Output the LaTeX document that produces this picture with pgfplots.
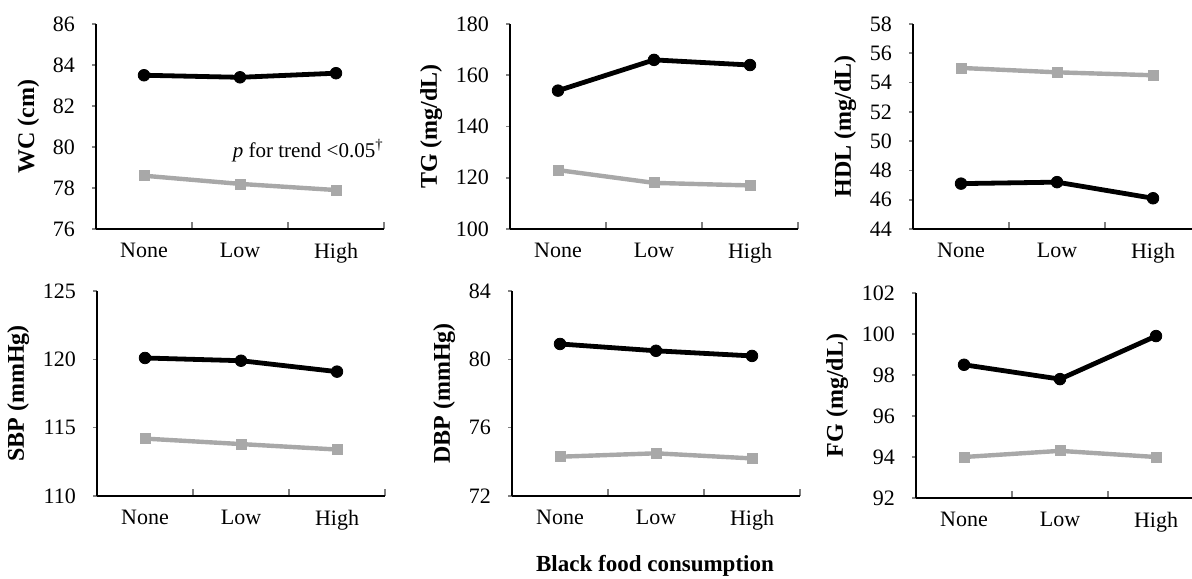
\documentclass[border=0pt]{standalone}
\usepackage{fontspec}
\setmainfont{Liberation Serif}
\usepackage{pgfplots}
\pgfplotsset{compat=1.18}
\definecolor{gry}{RGB}{168,168,168}

\pgfplotsset{
  panel/.style={
    scale only axis, width=144pt, height=102.5pt,
    xmin=-0.5, xmax=2.5,
    axis x line*=bottom, axis y line*=left,
    axis line style={-, line width=0.8pt},
    xtick={0,1,2}, xticklabels={None,Low,High},
    major x tick style={draw=none},
    minor xtick={0.5,1.5,2.5},
    minor x tick style={line width=0.8pt},
    minor tick length=3.5pt,
    xtick align=inside, ytick align=outside,
    major tick length=2pt,
    major y tick style={line width=0.8pt},
    tick label style={font=\fontsize{11}{13}\selectfont},
    yticklabel style={xshift=-5pt},
    xticklabel style={yshift=-3.5pt},
    ylabel style={font=\bfseries\fontsize{12}{14}\selectfont},
    /pgf/number format/assume math mode=true,
    clip=false,
  },
  blk/.style={black, line width=2.4pt, mark=*, mark size=2.9pt, mark options={solid, line width=0.4pt}},
  gryl/.style={color=gry, line width=2.2pt, mark=square*, mark size=2.5pt, mark options={solid, line width=0.4pt}},
}

\begin{document}
\begin{tikzpicture}
\path[use as bounding box] (0pt,0pt) rectangle (596pt,-289pt);

% WC
\begin{axis}[panel, at={(48pt,-114.5pt)}, anchor=south west,
  ymin=76, ymax=86, ytick={76,78,...,86}, ylabel={WC (cm)}]
\addplot[blk] coordinates {(0,83.5) (1,83.4) (2,83.6)};
\addplot[gryl] coordinates {(0,78.6) (1,78.2) (2,77.9)};
\node[anchor=east, font=\fontsize{10.5}{12}\selectfont, inner sep=0pt] at (axis cs:2.5,79.8) {\textit{p} for trend <0.05\textsuperscript{†}};
\end{axis}

% TG
\begin{axis}[panel, at={(255pt,-114.5pt)}, anchor=south west,
  ymin=100, ymax=180, ytick={100,120,...,180}, ylabel={TG (mg/dL)}]
\addplot[blk] coordinates {(0,154) (1,166) (2,164)};
\addplot[gryl] coordinates {(0,123) (1,118) (2,117)};
\end{axis}

% HDL
\begin{axis}[panel, at={(456.5pt,-114.5pt)}, anchor=south west,
  ymin=44, ymax=58, ytick={44,46,...,58}, ylabel={HDL (mg/dL)}]
\addplot[gryl] coordinates {(0,55.0) (1,54.7) (2,54.5)};
\addplot[blk] coordinates {(0,47.1) (1,47.2) (2,46.1)};
\end{axis}

% SBP
\begin{axis}[panel, at={(48.5pt,-248pt)}, anchor=south west,
  ymin=110, ymax=125, ytick={110,115,...,125}, ylabel={SBP (mmHg)}]
\addplot[blk] coordinates {(0,120.1) (1,119.9) (2,119.1)};
\addplot[gryl] coordinates {(0,114.2) (1,113.8) (2,113.4)};
\end{axis}

% DBP
\begin{axis}[panel, at={(256pt,-248pt)}, anchor=south west,
  ymin=72, ymax=84, ytick={72,76,...,84}, ylabel={DBP (mmHg)}]
\addplot[blk] coordinates {(0,80.9) (1,80.5) (2,80.2)};
\addplot[gryl] coordinates {(0,74.3) (1,74.5) (2,74.2)};
\end{axis}

% FG
\begin{axis}[panel, at={(458pt,-249pt)}, anchor=south west,
  ymin=92, ymax=102, ytick={92,94,...,102}, ylabel={FG (mg/dL)}]
\addplot[blk] coordinates {(0,98.5) (1,97.8) (2,99.9)};
\addplot[gryl] coordinates {(0,94.0) (1,94.3) (2,94.0)};
\end{axis}

\node[font=\bfseries\fontsize{11.5}{13}\selectfont] at (327.5pt,-283pt) {Black food consumption};
\end{tikzpicture}
\end{document}
